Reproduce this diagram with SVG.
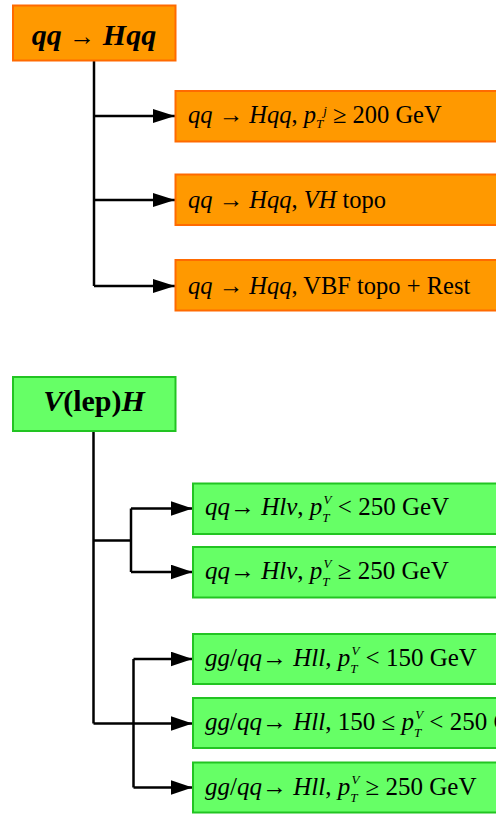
<svg xmlns="http://www.w3.org/2000/svg" width="496" height="819" viewBox="0 0 496 819">
<defs>
<style>
.or{fill:#ff9900;stroke:#ff6a00;stroke-width:2}
.gr{fill:#66ff66;stroke:#22c422;stroke-width:2}
.ln{fill:none;stroke:#000;stroke-width:2.5}
.t{font-family:"Liberation Serif","Times New Roman",serif;fill:#000}
.o{font-size:24.5px}
.g{font-size:25px}
.h{font-size:30px;font-weight:bold}
.i{font-style:italic}
.s{font-size:13px;font-style:italic}
.s2{font-size:13px;font-style:italic}
</style>
<marker id="ao" viewBox="0 0 22 14" refX="22" refY="7" markerWidth="22" markerHeight="14" markerUnits="userSpaceOnUse" orient="auto"><path d="M0,0 L22,7 L0,14 Z" fill="#000"/></marker>
<marker id="ag" viewBox="0 0 22 15" refX="22" refY="7.5" markerWidth="22" markerHeight="15" markerUnits="userSpaceOnUse" orient="auto"><path d="M0,0 L22,7.5 L0,15 Z" fill="#000"/></marker>
</defs>
<rect width="496" height="819" fill="#fff"/>
<g id="connectors">
<path class="ln" d="M94,60 V286"/>
<path class="ln" d="M94,116 H175" marker-end="url(#ao)"/>
<path class="ln" d="M94,200 H175" marker-end="url(#ao)"/>
<path class="ln" d="M94,286 H175" marker-end="url(#ao)"/>
<path class="ln" d="M93.5,431 V723.5"/>
<path class="ln" d="M93.5,540.5 H131"/>
<path class="ln" d="M131,508.5 V572"/>
<path class="ln" d="M131,508.5 H192.5" marker-end="url(#ag)"/>
<path class="ln" d="M131,572 H192.5" marker-end="url(#ag)"/>
<path class="ln" d="M93.5,723.5 H192.5" marker-end="url(#ag)"/>
<path class="ln" d="M133.5,659 V787.5"/>
<path class="ln" d="M133.5,659 H192.5" marker-end="url(#ag)"/>
<path class="ln" d="M133.5,787.5 H192.5" marker-end="url(#ag)"/>
</g>
<g id="n_qqHqq">
<rect class="or" x="13" y="5.5" width="162.5" height="55"/>
<text class="t h" x="94" y="45" text-anchor="middle"><tspan class="i">qq</tspan> <tspan font-weight="normal" font-size="26">→</tspan> <tspan class="i">Hqq</tspan></text>
</g>
<g id="n_o1">
<rect class="or" x="175.5" y="91" width="330" height="50.5"/>
<text class="t o" x="188" y="123"><tspan class="i">qq</tspan> <tspan>→</tspan> <tspan class="i">Hqq</tspan>, <tspan class="i">p</tspan><tspan class="s" dy="5">T</tspan><tspan class="s" dx="0" dy="-13">j</tspan><tspan dy="8"> ≥ 200 GeV</tspan></text>
</g>
<g id="n_o2">
<rect class="or" x="175.5" y="174.5" width="330" height="50.5"/>
<text class="t o" x="188" y="208"><tspan class="i">qq</tspan> <tspan>→</tspan> <tspan class="i">Hqq</tspan>, <tspan class="i">VH</tspan> topo</text>
</g>
<g id="n_o3">
<rect class="or" x="175.5" y="260" width="330" height="50.5"/>
<text class="t o" x="188" y="294"><tspan class="i">qq</tspan> <tspan>→</tspan> <tspan class="i">Hqq</tspan>, VBF topo + Rest</text>
</g>
<g id="n_VlepH">
<rect class="gr" x="13" y="377" width="162.5" height="54"/>
<text class="t h" x="94" y="411" text-anchor="middle"><tspan class="i">V</tspan>(lep)<tspan class="i">H</tspan></text>
</g>
<g id="n_g1">
<rect class="gr" x="193" y="483.5" width="320" height="50.5"/>
<text class="t g" x="205" y="515"><tspan class="i">qq</tspan><tspan>→</tspan> <tspan class="i">Hlv</tspan>, <tspan class="i">p</tspan><tspan class="s2" dy="7">T</tspan><tspan class="s2" dx="-6" dy="-18">V</tspan><tspan dy="11"> &lt; 250 GeV</tspan></text>
</g>
<g id="n_g2">
<rect class="gr" x="193" y="547" width="320" height="50.5"/>
<text class="t g" x="205" y="579"><tspan class="i">qq</tspan><tspan>→</tspan> <tspan class="i">Hlv</tspan>, <tspan class="i">p</tspan><tspan class="s2" dy="7">T</tspan><tspan class="s2" dx="-6" dy="-18">V</tspan><tspan dy="11"> ≥ 250 GeV</tspan></text>
</g>
<g id="n_g3">
<rect class="gr" x="193" y="634" width="320" height="50"/>
<text class="t g" x="205" y="666"><tspan class="i">gg</tspan>/<tspan class="i">qq</tspan><tspan>→</tspan> <tspan class="i">Hll</tspan>, <tspan class="i">p</tspan><tspan class="s2" dy="7">T</tspan><tspan class="s2" dx="-6" dy="-18">V</tspan><tspan dy="11"> &lt; 150 GeV</tspan></text>
</g>
<g id="n_g4">
<rect class="gr" x="193" y="698" width="320" height="50"/>
<text class="t g" x="205" y="730"><tspan class="i">gg</tspan>/<tspan class="i">qq</tspan><tspan>→</tspan> <tspan class="i">Hll</tspan>, 150 ≤ <tspan class="i">p</tspan><tspan class="s2" dy="7">T</tspan><tspan class="s2" dx="-6" dy="-18">V</tspan><tspan dy="11"> &lt; 250 GeV</tspan></text>
</g>
<g id="n_g5">
<rect class="gr" x="193" y="762.5" width="320" height="50"/>
<text class="t g" x="205" y="794.5"><tspan class="i">gg</tspan>/<tspan class="i">qq</tspan><tspan>→</tspan> <tspan class="i">Hll</tspan>, <tspan class="i">p</tspan><tspan class="s2" dy="7">T</tspan><tspan class="s2" dx="-6" dy="-18">V</tspan><tspan dy="11"> ≥ 250 GeV</tspan></text>
</g>
</svg>
